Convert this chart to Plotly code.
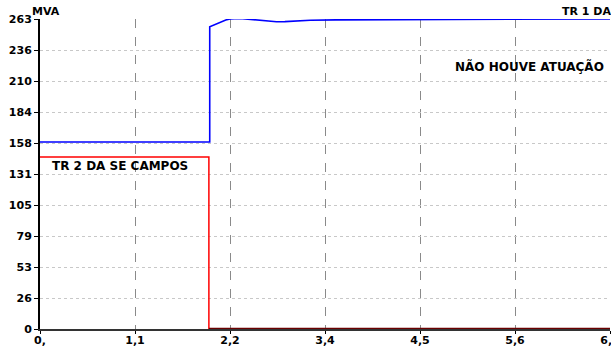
import plotly.graph_objects as go

# data
t_blue = [0.0, 2.01, 2.01, 2.05, 2.10, 2.15, 2.20, 2.25, 2.30, 2.35, 2.40, 2.50, 2.60, 2.70, 2.80,
          2.90, 3.00, 3.20, 3.50, 4.00, 5.00, 6.75]
v_blue = [158.6, 158.6, 256.5, 257.8, 259.3, 260.8, 262.2, 263.0, 263.4, 263.5, 263.3, 262.6, 261.7,
          261.0, 260.7, 260.8, 261.2, 261.9, 262.3, 262.5, 262.7, 263.0]
t_red = [0.0, 2.0, 2.0, 6.75]
v_red = [146.0, 146.0, 0.0, 0.0]

x_ticks = [0, 1.125, 2.25, 3.375, 4.5, 5.625, 6.75]
x_labels = ["0,", "1,1", "2,2", "3,4", "4,5", "5,6", "6,8"]
y_ticks = [i * 26.3 for i in range(11)]
y_labels = ["0", "26", "53", "79", "105", "131", "158", "184", "210", "236", "263"]

fig = go.Figure()
fig.add_trace(go.Scatter(x=t_red, y=v_red, mode="lines",
                         line=dict(color="#ff0000", width=1.5), cliponaxis=False))
fig.add_trace(go.Scatter(x=t_red[2:], y=v_red[2:], mode="lines",
                         line=dict(color="#6a0000", width=2.5), cliponaxis=False))
fig.add_trace(go.Scatter(x=t_blue, y=v_blue, mode="lines",
                         line=dict(color="#0000ff", width=1.6), cliponaxis=False))

font = dict(family="DejaVu Sans", size=11, color="#000")
afont = dict(family="DejaVu Sans", size=12, color="#000")
fig.update_layout(
    width=611, height=351,
    margin=dict(l=40, r=1, t=19, b=22, autoexpand=False),
    paper_bgcolor="white", plot_bgcolor="white",
    showlegend=False,
    font=font,
    xaxis=dict(range=[0, 6.75], tickvals=x_ticks, ticktext=[f"<b>{s}</b>" for s in x_labels],
               showgrid=True, gridcolor="#8a8a8a", griddash="dash", gridwidth=1,
               showline=True, linecolor="#333", linewidth=2, layer="below traces",
               ticks="outside", ticklen=3, tickcolor="#000", zeroline=False,
               ticklabeloverflow="allow", automargin=False, ticklabelstandoff=-3),
    yaxis=dict(range=[0, 263], tickvals=y_ticks, ticktext=[f"<b>{s}</b>" for s in y_labels],
               showgrid=True, gridcolor="#c8c8c8", griddash="dot", gridwidth=1,
               showline=True, linecolor="#000", linewidth=2,
               ticks="outside", ticklen=4, tickcolor="#000", zeroline=False, automargin=False),
    annotations=[
        dict(text="<b>MVA</b>", xref="paper", yref="paper", x=-0.0175, y=1.0226,
             xanchor="left", yanchor="middle", showarrow=False, font=font),
        dict(text="<b>TR 1 DA SE CAMPOS</b>", xref="paper", yref="paper", x=0.912, y=1.0226,
             xanchor="left", yanchor="middle", showarrow=False, font=font),
        dict(text="<b>NÃO HOUVE ATUAÇÃO</b>", xref="x", yref="y", x=4.89, y=222.3,
             xanchor="left", yanchor="middle", showarrow=False, font=afont),
        dict(text="<b>TR 2 DA SE CAMPOS</b>", xref="x", yref="y", x=0.118, y=138.3,
             xanchor="left", yanchor="middle", showarrow=False, font=afont),
    ],
)
fig.write_html("out.html", config={"displayModeBar": False},
               post_script="document.body.style.margin='0';document.body.style.overflow='hidden';")
